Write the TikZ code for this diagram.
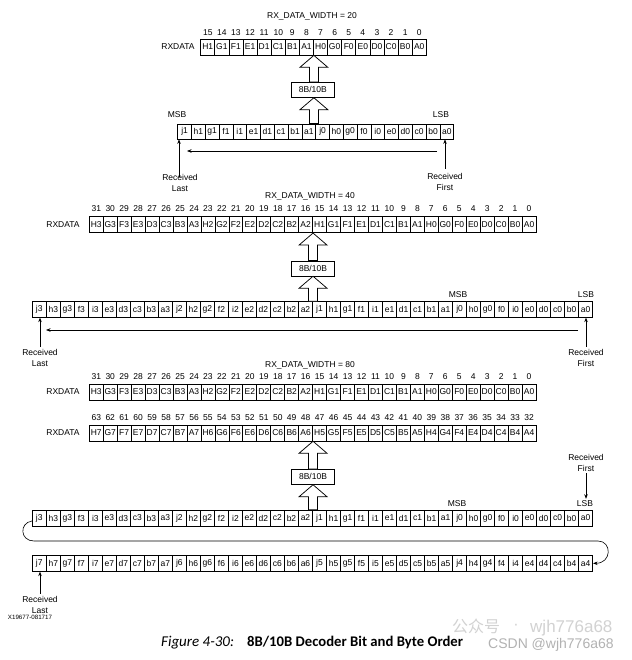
\documentclass[tikz,border=0pt]{standalone}
\usepackage{fontspec}
\setmainfont{Liberation Sans}
\newfontfamily\capfont{Carlito}
\newfontfamily\cjkfont{Noto Sans CJK SC}
\usetikzlibrary{calc,arrows.meta}

\tikzset{
  cell/.style={draw, line width=0.75pt, inner sep=0pt, minimum height=16pt, font=\fontsize{8.5}{9}\selectfont},
  lbl/.style={inner sep=0pt, font=\fontsize{8.5}{11}\selectfont, align=center},
  num/.style={inner sep=0pt, font=\fontsize{8.5}{9}\selectfont},
  hollow/.style={draw, fill=white, line width=0.75pt, line join=miter},
  codebox/.style={draw, line width=0.75pt, minimum width=43pt, minimum height=15pt, inner sep=0pt, font=\fontsize{8.5}{9}\selectfont},
  arr/.style={-{Stealth[length=4.5pt,width=3.5pt]}, line width=0.6pt},
}

% ten-bit row: #1 prefix, #2 x0, #3 y centre, #4 cell width, #5 cell height, #6 byte list
\newcommand\tenrow[6]{%
  \foreach \cb [count=\bi from 0] in {#6} {
    \foreach \cl [count=\li from 0] in {j,h,g,f,i,e,d,c,b,a} {
      \pgfmathtruncatemacro\idx{\bi*10+\li}
      \node[cell, minimum width=#4pt, minimum height=#5pt] (#1c\idx) at ({#2+(\idx+0.5)*#4}, #3) {\cl\cb};
    }
  }
}
% RXDATA row: #1 prefix, #2 x0, #3 y centre, #4 cell width, #5 byte list, #6 top bit, #7 y of numbers
\newcommand\datarow[7]{%
  \foreach \cb [count=\bi from 0] in {#5} {
    \foreach \cl [count=\li from 0] in {H,G,F,E,D,C,B,A} {
      \pgfmathtruncatemacro\idx{\bi*8+\li}
      \pgfmathtruncatemacro\bitno{#6-\idx}
      \node[cell, minimum width=#4pt] (#1c\idx) at ({#2+(\idx+0.5)*#4}, #3) {\cl\cb};
      \node[num] (#1n\idx) at ({#2+(\idx+0.5)*#4}, #7) {\bitno};
    }
  }
}
% hollow up arrow: #1 tip, #2 node whose north edge is the bottom of the shaft
\newcommand\hollowarrow[2]{%
  \draw[hollow] (#1) -- ++(14,12) -- ++(-9.5,0) -- ($(#1 |- #2.north)+(4.5,0)$)
    -- ($(#1 |- #2.north)+(-4.5,0)$) -- ($(#1)+(-4.5,12)$) -- ++(-9.5,0) -- cycle;}

\begin{document}
\begin{tikzpicture}[x=1pt,y=-1pt]
\useasboundingbox (0,0) rectangle (631,660);
\fill[white] (0,0) rectangle (631,660);

% ---------------- Section 1: width 20 ----------------
\node[lbl] (w20) at (312,16) {RX\_DATA\_WIDTH = 20};
\node[lbl] (rx1) at (178,47) {RXDATA};
\datarow{da}{200.7}{47}{14.1}{1,0}{15}{32.5}
\node[codebox] (bx1) at ($(dac7.south east)+(-1,34.5)$) {8B/10B};
\tenrow{ta}{177.7}{131.5}{13.8}{15}{1,0}
\coordinate (tipa) at (dac7.south east);
\hollowarrow{tipa}{bx1}
\coordinate (tipb) at (tipa |- bx1.south);
\hollowarrow{tipb}{tac10}
\node[lbl] (msb1) at (177,115) {MSB};
\node[lbl] (lsb1) at (441,115) {LSB};
\coordinate (h1s) at (437,151);
\coordinate (h1e) at (187,151);
\draw[arr] (h1s) -- (h1e);
\node[lbl] (rl1) at (180,183) {Received\\Last};
\node[lbl] (rf1) at (445,181.5) {Received\\First};
\draw[arr] ([shift={(-1,3)}]rl1.north) -- ([xshift=-1pt]rl1.north |- tac0.south);
\draw[arr] ([yshift=4pt]rf1.north) -- (rf1.north |- tac19.south);

% ---------------- Section 2: width 40 ----------------
\node[lbl] (w40) at (310,196) {RX\_DATA\_WIDTH = 40};
\node[lbl] (rx2) at (63,224.7) {RXDATA};
\datarow{db}{89.3}{224.7}{13.96}{3,2,1,0}{31}{209}
\node[codebox] (bx2) at ($(dbc15.south east)+(0,35.3)$) {8B/10B};
\tenrow{tb}{32.3}{309.5}{14.01}{15.6}{3,2,1,0}
\coordinate (tipc) at (dbc15.south east);
\hollowarrow{tipc}{bx2}
\coordinate (tipd) at (tipc |- bx2.south);
\hollowarrow{tipd}{tbc20}
\node[lbl] (msb2) at (458,295) {MSB};
\node[lbl] (lsb2) at (586,295) {LSB};
\coordinate (h2s) at (578,330);
\coordinate (h2e) at (46,330);
\draw[arr] (h2s) -- (h2e);
\node[lbl] (rl2) at (40,357.5) {Received\\Last};
\node[lbl] (rf2) at (586,357.5) {Received\\First};
\draw[arr] ([yshift=2pt]rl2.north) -- (rl2.north |- tbc0.south);
\draw[arr] ([yshift=2pt]rf2.north) -- (rf2.north |- tbc39.south);

% ---------------- Section 3: width 80 ----------------
\node[lbl] (w80) at (310,365) {RX\_DATA\_WIDTH = 80};
\node[lbl] (rx3) at (63,392) {RXDATA};
\datarow{dc}{89.3}{392}{13.96}{3,2,1,0}{31}{376.7}
\node[lbl] (rx4) at (63,432.9) {RXDATA};
\datarow{dd}{89.3}{432.9}{13.96}{7,6,5,4}{63}{417.7}
\node[codebox] (bx3) at ($(ddc15.south east)+(0,35.6)$) {8B/10B};
\tenrow{tc}{32.3}{518}{14.01}{16}{3,2,1,0}
\tenrow{td}{32.3}{563.3}{14.01}{16}{7,6,5,4}
\coordinate (tipe) at (ddc15.south east);
\hollowarrow{tipe}{bx3}
\coordinate (tipf) at (tipe |- bx3.south);
\hollowarrow{tipf}{tcc20}
\node[lbl] (msb3) at (457,504) {MSB};
\node[lbl] (lsb3) at (585,504) {LSB};
\node[lbl] (rf3) at (586,462.5) {Received\\First};
\draw[arr] ([yshift=-2pt]rf3.south) -- ([yshift=2pt]rf3.south |- lsb3.north);
\draw[arr] ([yshift=-3pt]tcc0.west) .. controls (19,523) and (20,541) .. (34,541)
  -- (598,541) .. controls (612,541) and (612,563.3) .. (tdc39.east);
\node[lbl] (rl3) at (40,604.5) {Received\\Last};
\draw[arr] ([yshift=2pt]rl3.north) -- (rl3.north |- tdc0.south);
\node[inner sep=0pt, font=\fontsize{6.2}{7}\selectfont] (xid) at (30,617) {X19677-081717};

% ---------------- Caption and watermark ----------------
\node[anchor=base west, inner sep=0pt, font=\capfont\itshape\fontsize{15}{16}\selectfont] (capA) at (161,646) {Figure 4-30:};
\node[anchor=base west, inner sep=0pt, font=\capfont\bfseries\fontsize{14.7}{16}\selectfont] (capB) at (247,646) {8B/10B Decoder Bit and Byte Order};
\node[anchor=base west, inner sep=0pt, text=gray!35, font=\cjkfont\fontsize{16}{17}\selectfont] (wm1) at (452,632) {公众号};
\node[inner sep=0pt, text=gray!35, font=\fontsize{16}{17}\selectfont] (wm1b) at (516,627) {·};
\node[anchor=base west, inner sep=0pt, text=gray!35, font=\fontsize{17}{18}\selectfont] (wm1c) at (530,632) {wjh776a68};
\node[anchor=base west, inner sep=0pt, text=gray!60, font=\fontsize{14}{15}\selectfont] (wm2) at (488,648) {CSDN @wjh776a68};
\end{tikzpicture}
\end{document}
